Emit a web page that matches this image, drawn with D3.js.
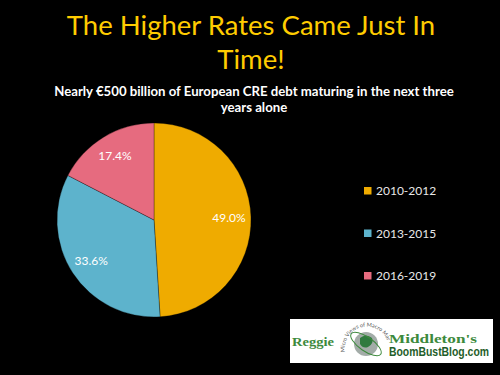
<!DOCTYPE html>
<html><head><meta charset="utf-8">
<script src="https://cdn.jsdelivr.net/npm/d3@7"></script>
<style>html,body{margin:0;padding:0;background:#000;}svg{display:block;}</style>
</head><body>
<script>
const categories = ["2010-2012", "2013-2015", "2016-2019"];
const values = [49.0, 33.6, 17.4];
const labels = ["49.0%", "33.6%", "17.4%"];
const colors = ["#EFAB00", "#5DB3CC", "#E66B7F"];
const titleLines = ["The Higher Rates Came Just In", "Time!"];
const subtitleLines = ["Nearly €500 billion of European CRE debt maturing in the next three", "years alone"];

const W = 500, H = 375;
const svg = d3.select("body").append("svg").attr("width", W).attr("height", H);
svg.append("rect").attr("width", W).attr("height", H).attr("fill", "#000");

const font = "Lato, 'Open Sans', sans-serif";

svg.selectAll("text.title").data(titleLines).enter().append("text")
  .attr("class", "title")
  .attr("x", 251).attr("y", (d, i) => 35 + i * 34)
  .attr("text-anchor", "middle")
  .attr("font-family", font).attr("font-size", 27.5)
  .attr("fill", "#FFCC00").text(d => d);

svg.selectAll("text.sub").data(subtitleLines).enter().append("text")
  .attr("class", "sub")
  .attr("x", 254).attr("y", (d, i) => 96 + i * 15.5)
  .attr("text-anchor", "middle")
  .attr("font-family", font).attr("font-size", 13.2).attr("font-weight", "bold")
  .attr("fill", "#fff").text(d => d);

const cx = 154, cy = 220, R = 97;
const pie = d3.pie().sort(null).value(d => d);
const arcs = pie(values);
const arc = d3.arc().innerRadius(0).outerRadius(R);
const labelArc = d3.arc().innerRadius(75).outerRadius(75);
const g = svg.append("g").attr("transform", `translate(${cx},${cy})`);
g.selectAll("path").data(arcs).enter().append("path")
  .attr("d", arc).attr("fill", (d, i) => colors[i])
  .attr("stroke", "#000").attr("stroke-width", 0.3);
g.selectAll("text").data(arcs).enter().append("text")
  .attr("transform", d => `translate(${labelArc.centroid(d)})`)
  .attr("text-anchor", "middle").attr("dy", "0.35em")
  .attr("font-family", font).attr("font-size", 12)
  .attr("fill", "#fff").text((d, i) => labels[i]);

const y = d3.scalePoint().domain(categories).range([191, 276]);
const lg = svg.append("g");
lg.selectAll("rect").data(categories).enter().append("rect")
  .attr("x", 364).attr("y", d => y(d) - 4).attr("width", 7.5).attr("height", 7.5)
  .attr("fill", (d, i) => colors[i]);
lg.selectAll("text").data(categories).enter().append("text")
  .attr("x", 376).attr("y", d => y(d)).attr("dy", "0.35em")
  .attr("font-family", font).attr("font-size", 12)
  .attr("fill", "#e8e8e8").text(d => d);

// logo approximation
const logo = svg.append("g");
logo.append("rect").attr("x", 290).attr("y", 319).attr("width", 203).attr("height", 44).attr("fill", "#fff");
logo.append("text").attr("x", 292).attr("y", 346).attr("font-family", "'Liberation Serif', serif")
  .attr("font-size", 13).attr("font-weight", "bold").attr("fill", "#3d8a3d")
  .attr("textLength", 42).attr("lengthAdjust", "spacingAndGlyphs").text("Reggie");
logo.append("circle").attr("cx", 366).attr("cy", 344).attr("r", 12).attr("fill", "#a3aca8");
logo.append("path").attr("d", "M360,338 q6,-5 12,0 q2,6 -4,9 q-5,2 -8,-3z").attr("fill", "#2f7a3f");
logo.append("ellipse").attr("cx", 366).attr("cy", 344).attr("rx", 18).attr("ry", 7)
  .attr("fill", "none").attr("stroke", "#3d8a3d").attr("stroke-width", 1).attr("transform", "rotate(35,366,344)");
logo.append("path").attr("id", "logoArc").attr("d", "M345,352 A22,22 0 0,1 387,340").attr("fill", "none");
logo.append("text").attr("font-family", font).attr("font-size", 5.5).attr("fill", "#555")
  .append("textPath").attr("href", "#logoArc").text("Micro Views of Macro Markets");
logo.append("text").attr("x", 389).attr("y", 343).attr("font-family", "'Liberation Serif', serif")
  .attr("font-size", 13).attr("font-weight", "bold").attr("fill", "#3d8a3d")
  .attr("textLength", 88).attr("lengthAdjust", "spacingAndGlyphs").text("Middleton's");
logo.append("text").attr("x", 389).attr("y", 356).attr("font-family", "'Liberation Sans Narrow', 'Liberation Sans', sans-serif")
  .attr("font-size", 12).attr("font-weight", "bold").attr("fill", "#1f5e2a")
  .attr("textLength", 100).attr("lengthAdjust", "spacingAndGlyphs").text("BoomBustBlog.com");
</script>
</body></html>
